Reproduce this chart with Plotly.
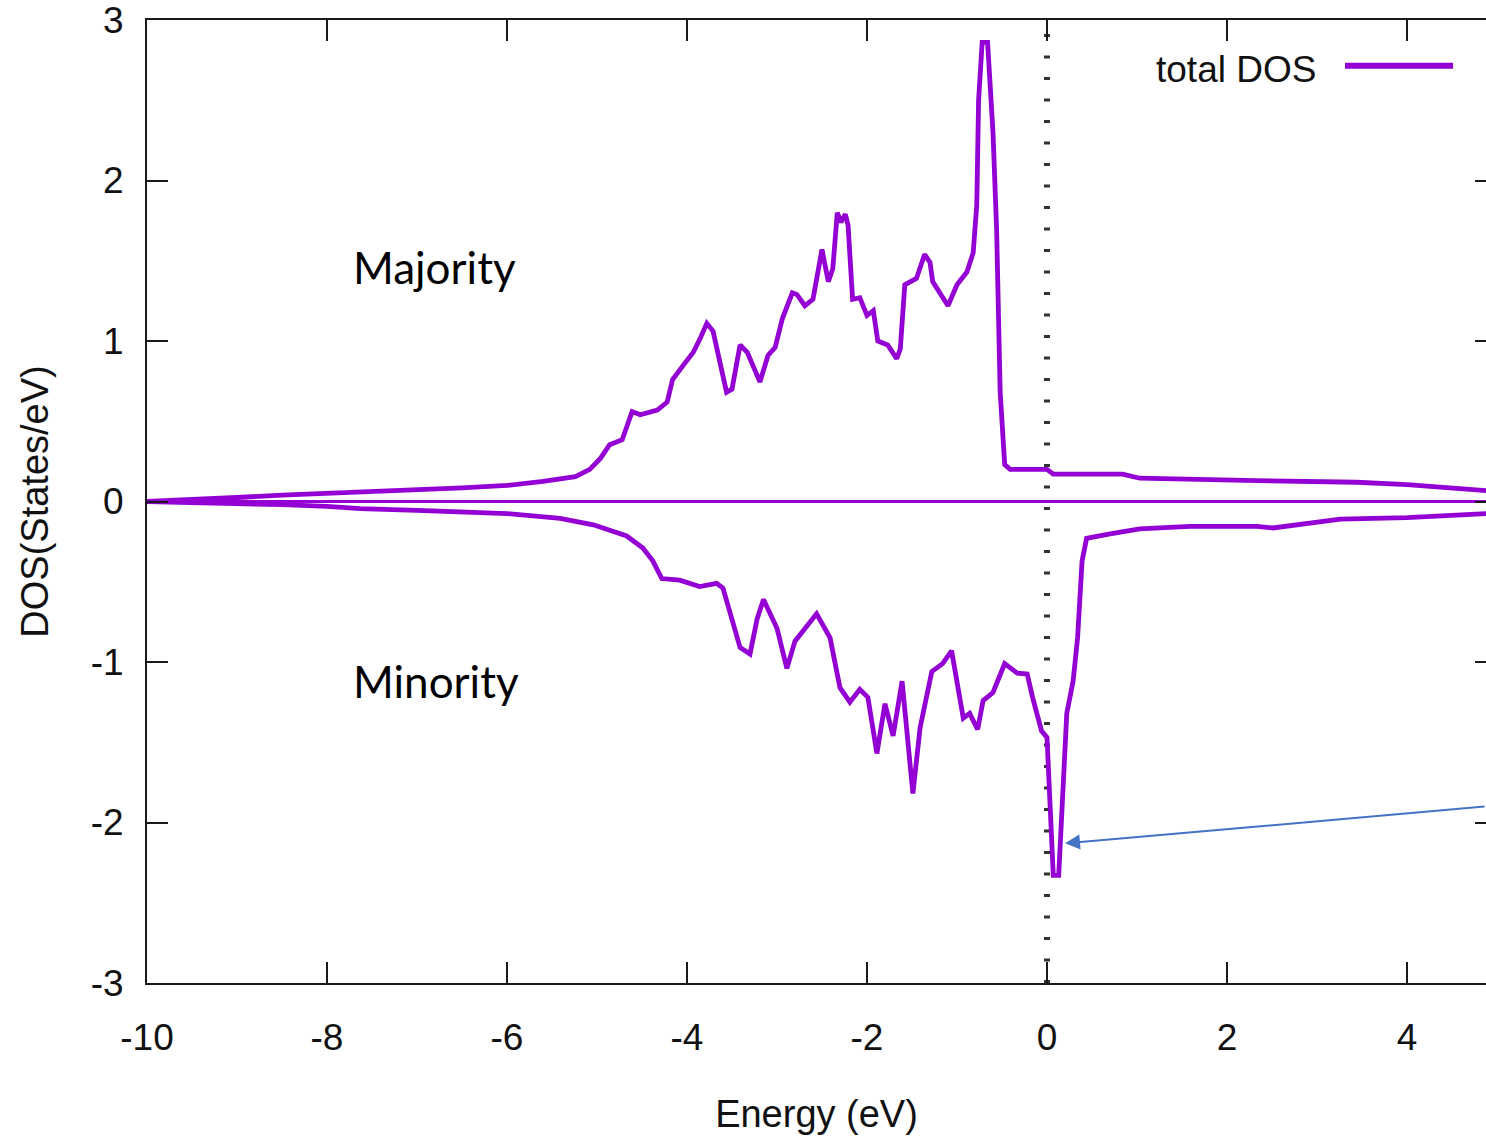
import plotly.graph_objects as go

# ---- data ----
maj_energy = [-10, -9.5, -9, -8.5, -8, -7.5, -7, -6.5, -6, -5.6, -5.24, -5.08, -4.96, -4.86,
              -4.72, -4.61, -4.52, -4.33, -4.22, -4.16, -4.04, -3.93, -3.85, -3.78, -3.71,
              -3.56, -3.5, -3.41, -3.33, -3.19, -3.10, -3.02, -2.94, -2.83, -2.78, -2.69,
              -2.6, -2.54, -2.5, -2.43, -2.38, -2.33, -2.29, -2.24, -2.21, -2.16, -2.08,
              -2.0, -1.93, -1.88, -1.77, -1.67, -1.63, -1.58, -1.45, -1.36, -1.3, -1.27,
              -1.1, -1.0, -0.89, -0.82, -0.78, -0.76, -0.72, -0.66, -0.6, -0.56, -0.52,
              -0.47, -0.41, 0.0, 0.07, 0.84, 1.03, 2.33, 3.44, 4.0, 4.88]
maj_dos = [0, 0.01, 0.025, 0.04, 0.05, 0.06, 0.075, 0.085, 0.1, 0.125, 0.155, 0.2, 0.27, 0.354,
           0.385, 0.56, 0.54, 0.57, 0.62, 0.76, 0.85, 0.93, 1.02, 1.11, 1.06,
           0.68, 0.70, 0.975, 0.93, 0.745, 0.91, 0.96, 1.14, 1.30, 1.29, 1.22,
           1.26, 1.45, 1.57, 1.37, 1.45, 1.80, 1.74, 1.79, 1.72, 1.26, 1.27,
           1.16, 1.19, 1.0, 0.975, 0.89, 0.95, 1.35, 1.39, 1.54, 1.49, 1.37,
           1.22, 1.35, 1.43, 1.55, 1.85, 2.5, 2.86, 2.86, 2.3, 1.7, 0.68,
           0.23, 0.2, 0.2, 0.17, 0.17, 0.145, 0.13, 0.12, 0.105, 0.068]

min_energy = [-10, -9.5, -9, -8.5, -8, -7.63, -7, -6.63, -6, -5.41, -5.04, -4.67, -4.49, -4.38,
              -4.28, -4.08, -3.86, -3.67, -3.6, -3.41, -3.3, -3.22, -3.15, -3.0, -2.89,
              -2.8, -2.56, -2.41, -2.3, -2.19, -2.08, -1.99, -1.89, -1.8, -1.71, -1.61,
              -1.49, -1.41, -1.28, -1.16, -1.06, -0.93, -0.86, -0.77, -0.71, -0.6, -0.47,
              -0.33, -0.22, -0.16, -0.06, 0.0, 0.07, 0.13, 0.22, 0.29, 0.34, 0.39, 0.44,
              0.67, 1.03, 1.59, 2.33, 2.51, 3.26, 4.0, 4.88]
min_dos = [0, -0.005, -0.01, -0.02, -0.03, -0.045, -0.055, -0.06, -0.075, -0.105, -0.145, -0.215,
           -0.29, -0.37, -0.48, -0.49, -0.53, -0.51, -0.54, -0.91, -0.95, -0.73, -0.61, -0.79,
           -1.04, -0.87, -0.70, -0.85, -1.16, -1.25, -1.17, -1.22, -1.57, -1.26, -1.46, -1.12,
           -1.82, -1.41, -1.06, -1.01, -0.93, -1.35, -1.32, -1.42, -1.24, -1.19, -1.01,
           -1.07, -1.075, -1.22, -1.43, -1.47, -2.33, -2.33, -1.32, -1.12, -0.85, -0.37, -0.23,
           -0.205, -0.17, -0.155, -0.155, -0.165, -0.11, -0.1, -0.075]

x_ticks = [-10, -8, -6, -4, -2, 0, 2, 4]
y_ticks = [-3, -2, -1, 0, 1, 2, 3]

PURPLE = "#9400D3"
AX = "#1a1a1a"
FONT = "Liberation Sans"

fig = go.Figure()
fig.add_trace(go.Scatter(x=maj_energy, y=maj_dos, mode="lines", name="total DOS",
                         line=dict(color=PURPLE, width=4.8), showlegend=False))
fig.add_trace(go.Scatter(x=min_energy, y=min_dos, mode="lines", name="total DOS",
                         line=dict(color=PURPLE, width=4.8), showlegend=False,
                         yaxis="y2"))

xmax = 4.878
fig.update_layout(
    width=1486, height=1138,
    margin=dict(l=147, r=0, t=17, b=155),
    paper_bgcolor="white", plot_bgcolor="white",
    font=dict(family=FONT, size=37, color="#111"),
    showlegend=False,
    xaxis=dict(range=[-10, xmax], tickvals=x_ticks, ticktext=[str(v) for v in x_ticks],
               ticks="inside", ticklen=21, tickwidth=2, tickcolor=AX,
               showline=True, linecolor=AX, linewidth=2, mirror="ticks",
               showgrid=False, zeroline=False, ticklabelstandoff=21,
               ticklabeloverflow="allow",
               title=dict(text="Energy (eV)", standoff=43, font=dict(size=38))),
    yaxis=dict(range=[-3, 3], tickvals=y_ticks, ticktext=[str(v) for v in y_ticks],
               ticks="inside", ticklen=21, tickwidth=2, tickcolor=AX,
               showline=True, linecolor=AX, linewidth=2, mirror=False,
               showgrid=False, zeroline=True, zerolinecolor=PURPLE, zerolinewidth=3,
               ticklabelstandoff=14, ticklabeloverflow="allow",
               title=dict(text="DOS(States/eV)", standoff=30, font=dict(size=38))),
    yaxis2=dict(range=[-3, 3], overlaying="y", side="right", tickvals=y_ticks,
                ticks="inside", ticklen=11, tickwidth=2, tickcolor=AX,
                showticklabels=False, showline=False, showgrid=False, zeroline=False),
)

# dotted Fermi level line
fig.add_shape(type="line", xref="x", yref="paper", x0=0, x1=0, y0=0, y1=1,
              line=dict(color="#333", width=6, dash="3px,18.5px"), layer="below")

# legend drawn gnuplot style (text then sample line)
fig.add_annotation(xref="paper", yref="paper", x=0.8745, y=0.949, text="total DOS",
                   showarrow=False, xanchor="right", yanchor="middle",
                   font=dict(family=FONT, size=37, color="#111"))
fig.add_shape(type="line", xref="paper", yref="paper", x0=0.8947, x1=0.9754,
              y0=0.9524, y1=0.9524, line=dict(color=PURPLE, width=6))

# labels
fig.add_annotation(x=-7.73, y=1.46, text="Majority", showarrow=False, xanchor="left",
                   yanchor="middle", font=dict(family="Lato", size=44, color="black"))
fig.add_annotation(x=-7.73, y=-1.12, text="Minority", showarrow=False, xanchor="left",
                   yanchor="middle", font=dict(family="Lato", size=44, color="black"))

# blue arrow
fig.add_annotation(x=0.2, y=-2.13, ax=xmax, ay=-1.90, axref="x", ayref="y",
                   text="", showarrow=True, arrowhead=2, arrowsize=1.5, arrowwidth=2,
                   arrowcolor="#4472C4", standoff=0, startstandoff=0)

fig.write_html("out.html")
